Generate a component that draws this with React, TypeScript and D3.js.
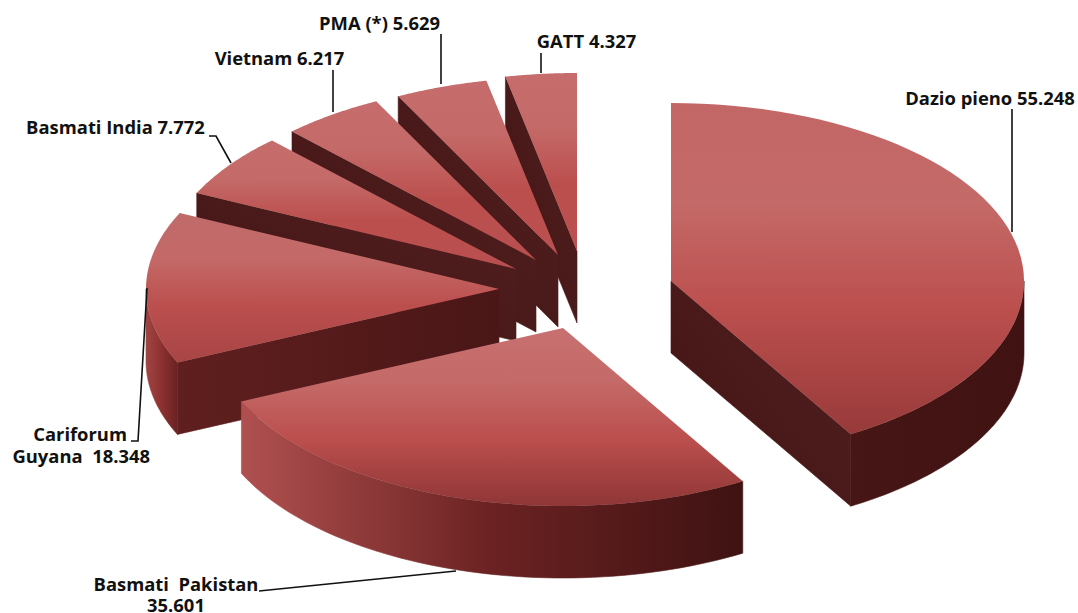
import React from "react";
import * as d3 from "d3";

// Rice import quotas by origin, in tonnes
const names = ["Dazio pieno", "Basmati Pakistan", "Cariforum Guyana", "Basmati India", "Vietnam", "PMA (*)", "GATT"];
const values = [55.248, 35.601, 18.348, 7.772, 6.217, 5.629, 4.327];
const labelLines = [
  ["Dazio pieno 55.248"],
  ["Basmati\u00a0 Pakistan", "35.601"],
  ["Cariforum", "Guyana\u00a0 18.348"],
  ["Basmati India 7.772"],
  ["Vietnam 6.217"],
  ["PMA (*) 5.629"],
  ["GATT 4.327"],
];

// Layout of the exploded wedges: apex of each wedge on the top face
const apexX = [671, 563, 499, 516, 536, 558, 577];
const apexY = [281, 328, 289, 269, 260, 255, 251];
const radiiY = [178, 178, 178, 178, 178, 178, 178];
const radiusX = 353;
const depth = 72;

// Label anchors and leader polylines
const labelX = [990, 176, 127, 115.5, 279.5, 379.5, 586.5];
const labelY = [105, 591, 441, 134, 65, 30, 48];
const labelAnchor = ["middle", "middle", "end", "middle", "middle", "middle", "middle"];
const secondLineX = [0, 176, 150, 0, 0, 0, 0];
const secondLineY = [0, 612, 463, 0, 0, 0, 0];
const leaders: [number, number][][] = [
  [[1012, 109], [1012, 232]],
  [[259, 591], [456, 571]],
  [[147, 288], [138, 441], [131, 441]],
  [[209, 136], [216, 136], [231, 163]],
  [[333, 70], [333, 112]],
  [[441, 34], [441, 84]],
  [[541, 53], [541, 73]],
];

const pie = d3.pie<number>().sort(null).startAngle(0).endAngle(2 * Math.PI);
const arcs = pie(values);
const line = d3.line<[number, number]>();

const project = (i: number, a: number, r: number, drop = 0): [number, number] => {
  const sx = d3.scaleLinear().domain([0, 1]).range([apexX[i], apexX[i] + radiusX * Math.sin(a)]);
  const sy = d3.scaleLinear().domain([0, 1]).range([apexY[i], apexY[i] - radiiY[i] * Math.cos(a)]);
  return [sx(r), sy(r) + drop];
};

const sweep = (i: number, a0: number, a1: number, drop = 0) =>
  d3.range(0, 61).map((k) => project(i, a0 + ((a1 - a0) * k) / 60, 1, drop));

const topFace = (i: number, a0: number, a1: number) =>
  line([[apexX[i], apexY[i]], ...sweep(i, a0, a1)]) + "Z";

const radialFace = (i: number, a: number) =>
  line([
    [apexX[i], apexY[i]],
    project(i, a, 1),
    project(i, a, 1, depth),
    [apexX[i], apexY[i] + depth],
  ]) + "Z";

const wallFace = (i: number, a0: number, a1: number) => {
  const from = Math.max(a0, Math.PI / 2);
  const to = Math.min(a1, (3 * Math.PI) / 2);
  if (to <= from) return null;
  return line([...sweep(i, from, to), ...sweep(i, from, to, depth).reverse()]) + "Z";
};

// Shading ramps per wedge
const topEnd = ["#983a3a", "#8f3636", "#a84545", "#b84f4f", "#b84f4f", "#bb5050", "#bb5050"];
const topStart = ["#c26666", "#c87070", "#c06a6a", "#c66c6c", "#c66c6c", "#c66c6c", "#c66c6c"];
const wallStops: [string, string, string][] = [
  ["#401212", "#441414", "#461616"],
  ["#3f1212", "#6b2222", "#b05050"],
  ["#6a2222", "#8c3030", "#a04444"],
  ["#5a1e1e", "#5a1e1e", "#5a1e1e"],
  ["#5a1e1e", "#5a1e1e", "#5a1e1e"],
  ["#5a1e1e", "#5a1e1e", "#5a1e1e"],
  ["#5a1e1e", "#5a1e1e", "#5a1e1e"],
];

export default function App() {
  // Painted back to front so nearer wedges cover the ones behind them
  const order = [6, 5, 4, 3, 2, 1, 0];
  return (
    <svg
      width={1078}
      height={613}
      style={{ position: "absolute", left: 0, top: 0, background: "#fff" }}
      fontFamily="'Open Sans', 'Noto Sans', sans-serif"
    >
      <defs>
        {names.map((_, i) => (
          <linearGradient key={i} id={`top${i}`} x1="0" y1="0" x2="0" y2="1">
            <stop offset="0" stopColor={topStart[i]} />
            <stop offset="0.3" stopColor="#c46a68" />
            <stop offset="0.62" stopColor="#bb4f4e" />
            <stop offset="1" stopColor={topEnd[i]} />
          </linearGradient>
        ))}
        {names.map((_, i) => (
          <linearGradient key={i} id={`wall${i}`} x1="1" y1="0" x2="0" y2="0">
            <stop offset="0" stopColor={wallStops[i][0]} />
            <stop offset="0.5" stopColor={wallStops[i][1]} />
            <stop offset="1" stopColor={wallStops[i][2]} />
          </linearGradient>
        ))}
        <linearGradient id="cut" x1="1" y1="0" x2="0" y2="1">
          <stop offset="0" stopColor="#521f1f" />
          <stop offset="1" stopColor="#421414" />
        </linearGradient>
        <linearGradient id="cutFront" x1="1" y1="0" x2="0" y2="0">
          <stop offset="0" stopColor="#4a1616" />
          <stop offset="1" stopColor="#601f1f" />
        </linearGradient>
      </defs>

      {order.map((i) => {
        const { startAngle, endAngle } = arcs[i];
        const wall = wallFace(i, startAngle, endAngle);
        const cutFill = i === 2 ? "url(#cutFront)" : "url(#cut)";
        return (
          <g key={names[i]}>
            {Math.sin(startAngle) < -1e-6 && (
              <path d={radialFace(i, startAngle)} fill={cutFill} stroke={cutFill} strokeWidth={0.6} />
            )}
            {Math.sin(endAngle) > 1e-6 && (
              <path d={radialFace(i, endAngle)} fill={cutFill} stroke={cutFill} strokeWidth={0.6} />
            )}
            {wall && <path d={wall} fill={`url(#wall${i})`} stroke={`url(#wall${i})`} strokeWidth={0.6} />}
            <path d={topFace(i, startAngle, endAngle)} fill={`url(#top${i})`} />
          </g>
        );
      })}

      {leaders.map((pts, i) => (
        <path key={i} d={line(pts) ?? ""} fill="none" stroke="#111" strokeWidth={1.6} />
      ))}

      {labelLines.map((lines, i) => (
        <g key={i} fontSize={18.4} fontWeight={700} fill="#111">
          <text x={labelX[i]} y={labelY[i]} textAnchor={labelAnchor[i]}>
            {lines[0]}
          </text>
          {lines[1] && (
            <text x={secondLineX[i]} y={secondLineY[i]} textAnchor={labelAnchor[i]}>
              {lines[1]}
            </text>
          )}
        </g>
      ))}
    </svg>
  );
}
